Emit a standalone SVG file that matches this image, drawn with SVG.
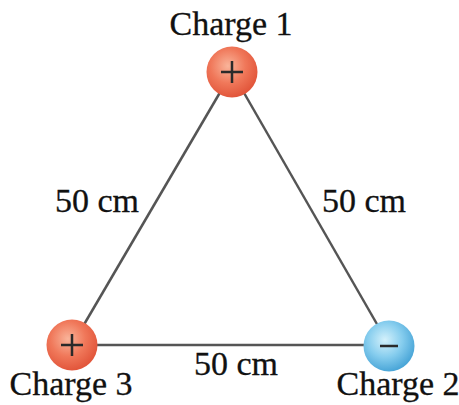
<svg xmlns="http://www.w3.org/2000/svg" width="459" height="405" viewBox="0 0 459 405">
<defs>
<radialGradient id="gRed" cx="0.42" cy="0.38" r="0.62">
<stop offset="0" stop-color="#f9b49a"/>
<stop offset="0.55" stop-color="#f0785a"/>
<stop offset="1" stop-color="#e2563b"/>
</radialGradient>
<radialGradient id="gBlue" cx="0.42" cy="0.38" r="0.62">
<stop offset="0" stop-color="#d4f1fb"/>
<stop offset="0.55" stop-color="#86cdee"/>
<stop offset="1" stop-color="#4aa6d8"/>
</radialGradient>
<style>
text{font-family:"Liberation Serif","Times New Roman",serif;font-size:34px;fill:#111;text-anchor:middle;stroke:#111;stroke-width:0.3}
.edge{stroke:#555;stroke-width:2.5;fill:none}
.sign{stroke:#2a2a2a;stroke-width:2.5;fill:none}
</style>
</defs>
<rect width="459" height="405" fill="#fff"/>
<g id="connectors">
<line class="edge" x1="232" y1="72" x2="72" y2="345"/>
<line class="edge" x1="232" y1="72" x2="389" y2="345"/>
<line class="edge" x1="72" y1="345" x2="389" y2="345"/>
<text x="97" y="212">50 cm</text>
<text x="364" y="212">50 cm</text>
<text x="236" y="375">50 cm</text>
</g>
<g id="charge1">
<circle cx="232" cy="72" r="25.5" fill="url(#gRed)"/>
<path class="sign" d="M221 72H243M232 61V83"/>
<text x="231" y="35">Charge 1</text>
</g>
<g id="charge2">
<circle cx="389" cy="346" r="25.5" fill="url(#gBlue)"/>
<path class="sign" d="M380 346H398"/>
<text x="398" y="395">Charge 2</text>
</g>
<g id="charge3">
<circle cx="72" cy="345" r="25.5" fill="url(#gRed)"/>
<path class="sign" d="M61 345H83M72 334V356"/>
<text x="71" y="395">Charge 3</text>
</g>
</svg>
